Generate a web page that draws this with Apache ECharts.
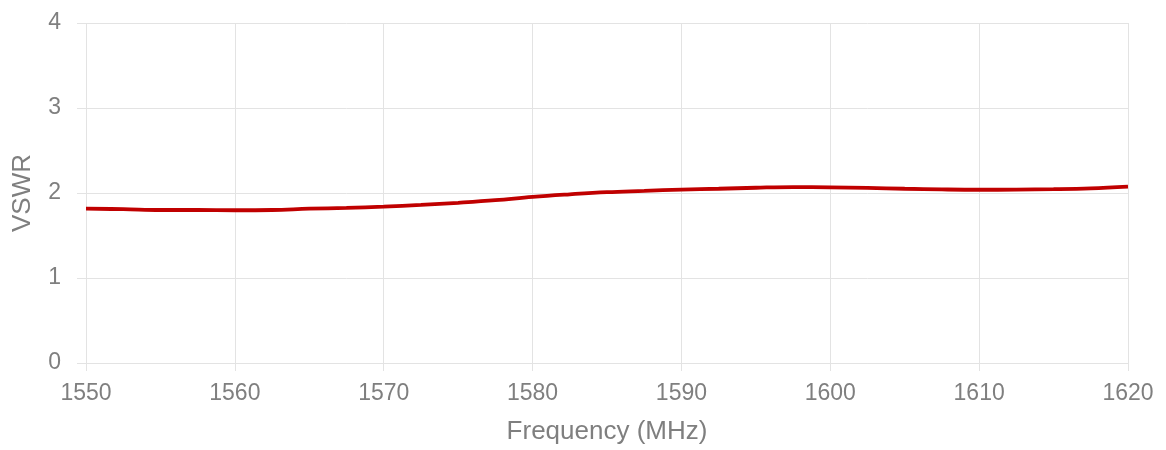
<!DOCTYPE html>
<html>
<head>
<meta charset="utf-8">
<script src="https://cdn.jsdelivr.net/npm/echarts@6/dist/echarts.min.js"></script>
<style>html,body{margin:0;padding:0;background:#fff}#c{width:1166px;height:450px}</style>
</head>
<body>
<div id="c"></div>
<script>
const freq = [1550,1552.5,1555,1557.5,1560,1562.5,1565,1567.5,1570,1572.5,1575,1577.5,1580,1582.5,1585,1587.5,1590,1592.5,1595,1597.5,1600,1602.5,1605,1607.5,1610,1612.5,1615,1617.5,1620];
const vswr = [1.815,1.81,1.80,1.80,1.797,1.80,1.815,1.825,1.84,1.86,1.885,1.915,1.955,1.985,2.01,2.025,2.04,2.05,2.062,2.07,2.067,2.06,2.05,2.042,2.038,2.04,2.045,2.055,2.075];
const xTicks = [1550,1560,1570,1580,1590,1600,1610,1620];
const yTicks = [0,1,2,3,4];

const grey = '#7f7f7f';
const gridColor = '#e3e3e3';
const font = 'Arial, "Liberation Sans", sans-serif';
const chart = echarts.init(document.getElementById('c'), null, {renderer:'canvas'});
chart.setOption({
  animation:false,
  grid:{left:86,right:38,top:23,bottom:85.5,containLabel:false},
  xAxis:{
    type:'value', min:xTicks[0], max:xTicks[xTicks.length-1], interval:10,
    name:'Frequency (MHz)', nameLocation:'middle', nameGap:56,
    nameTextStyle:{color:grey,fontSize:26,fontFamily:font},
    axisLine:{show:true,lineStyle:{color:gridColor,width:1}},
    axisTick:{show:true,length:8,lineStyle:{color:gridColor}},
    axisLabel:{color:grey,fontSize:23,fontFamily:font,margin:19,formatter:v=>String(v)},
    splitLine:{show:true,lineStyle:{color:gridColor,width:1}}
  },
  yAxis:{
    type:'value', min:yTicks[0], max:yTicks[yTicks.length-1], interval:1,
    name:'VSWR', nameLocation:'middle', nameGap:50, nameRotate:90,
    nameTextStyle:{color:grey,fontSize:26,fontFamily:font},
    axisLine:{show:false},
    axisTick:{show:true,length:9,lineStyle:{color:gridColor}},
    axisLabel:{color:grey,fontSize:23,fontFamily:font,margin:25,formatter:v=>String(v)},
    splitLine:{show:true,lineStyle:{color:gridColor,width:1}}
  },
  series:[{
    type:'line', data:freq.map((f,i)=>[f,vswr[i]]), smooth:0.4, showSymbol:false,
    lineStyle:{color:'#c00000',width:3.8}, itemStyle:{color:'#c00000'}
  }]
});
</script>
</body>
</html>
